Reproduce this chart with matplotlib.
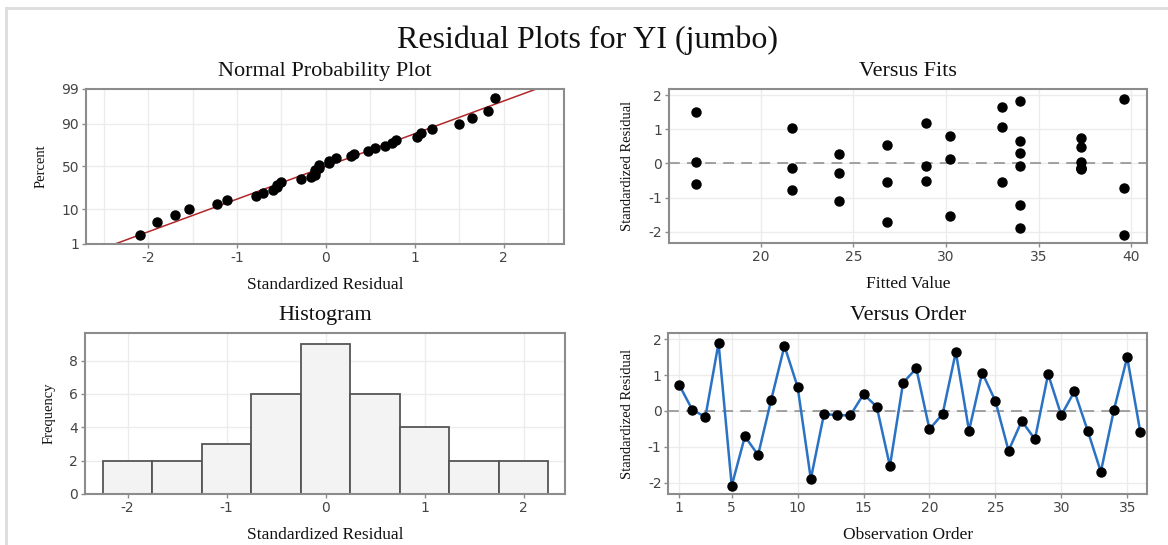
import numpy as np
import matplotlib
matplotlib.use("Agg")
import matplotlib.pyplot as plt
from matplotlib.lines import Line2D
from statistics import NormalDist

# standardized residuals in observation order
residuals = [0.74, 0.04, -0.17, 1.90, -2.09, -0.71, -1.23, 0.32, 1.82, 0.67,
             -1.90, -0.08, -0.12, -0.12, 0.47, 0.12, -1.54, 0.79, 1.19, -0.51,
             -0.08, 1.65, -0.55, 1.07, 0.28, -1.11, -0.28, -0.79, 1.03, -0.12,
             0.55, -0.55, -1.70, 0.04, 1.50, -0.60]
# fitted value for each observation
fitted = [37.3, 37.3, 37.3, 39.6, 39.6, 39.6, 34.0, 34.0, 34.0, 34.0,
          34.0, 34.0, 37.3, 37.3, 37.3, 30.2, 30.2, 30.2, 28.9, 28.9,
          28.9, 33.0, 33.0, 33.0, 24.2, 24.2, 24.2, 21.7, 21.7, 21.7,
          26.8, 26.8, 26.8, 16.5, 16.5, 16.5]
observation = list(range(1, len(residuals) + 1))

pct_ticks = [1, 10, 50, 90, 99]
hist_edges = np.arange(-2.25, 2.26, 0.5)
order_ticks = [1, 5, 10, 15, 20, 25, 30, 35]

SERIF = "Liberation Serif"
TICKFONT = "DejaVu Sans"
SPINE = "#8c8c8c"
GRID = "#ececec"

plt.rcParams["axes.unicode_minus"] = False

nd = NormalDist()
r = np.array(residuals)

fig = plt.figure(figsize=(11.68, 5.45), dpi=100)
ax_np = fig.add_axes([0.0736, 0.5523, 0.4092, 0.2844])
ax_fit = fig.add_axes([0.5728, 0.5541, 0.4092, 0.2826])
ax_hist = fig.add_axes([0.0728, 0.0936, 0.4110, 0.2954])
ax_ord = fig.add_axes([0.5723, 0.0936, 0.4097, 0.2954])


def style(ax, title, xlabel, ylabel):
    for s in ax.spines.values():
        s.set_color(SPINE)
        s.set_linewidth(1.5)
    ax.tick_params(length=3, width=1, color=SPINE, labelcolor="#444444",
                   labelsize=10, pad=2)
    for lab in ax.get_xticklabels() + ax.get_yticklabels():
        lab.set_fontfamily(TICKFONT)
    ax.set_axisbelow(True)
    ax.set_title(title, fontfamily=SERIF, fontsize=16, pad=9, color="#111111")
    ax.set_xlabel(xlabel, fontfamily=SERIF, fontsize=12.5, labelpad=9, color="#111111")
    ax.set_ylabel(ylabel, fontfamily=SERIF, fontsize=10.5, labelpad=10, color="#111111")


# normal probability plot
rs = np.sort(r)
n = len(rs)
probs = (np.arange(1, n + 1) - 0.3) / (n + 0.4)
zs = [nd.inv_cdf(p) for p in probs]
mu, sd = r.mean(), r.std(ddof=1)
zline = np.array([nd.inv_cdf(0.002), nd.inv_cdf(0.998)])
for x in np.arange(-2.5, 2.51, 0.5):
    ax_np.axvline(x, color=GRID, lw=1, zorder=0)
for t in pct_ticks[1:-1]:
    ax_np.axhline(nd.inv_cdf(t / 100), color=GRID, lw=1, zorder=0)
ax_np.plot(mu + zline * sd, zline, color="#b0282c", lw=1.1, zorder=2)
ax_np.plot(rs, zs, "o", color="black", ms=6.5, zorder=3)
ax_np.set_yticks([nd.inv_cdf(t / 100) for t in pct_ticks])
ax_np.set_yticklabels([str(t) for t in pct_ticks])
ax_np.set_ylim(nd.inv_cdf(0.01), nd.inv_cdf(0.99))
ax_np.set_xticks([-2, -1, 0, 1, 2])
ax_np.set_xlim(-2.70, 2.68)
style(ax_np, "Normal Probability Plot", "Standardized Residual", "Percent")

# residuals versus fits
ax_fit.grid(True, color=GRID, lw=1)
ax_fit.axhline(0, color="#9a9a9a", lw=1.3, ls=(0, (6, 4)), zorder=1)
ax_fit.plot(fitted, residuals, "o", color="black", ms=6.5, zorder=3)
ax_fit.set_xticks([20, 25, 30, 35, 40])
ax_fit.set_yticks([-2, -1, 0, 1, 2])
ax_fit.set_xlim(15.04, 40.85)
ax_fit.set_ylim(-2.33, 2.18)
style(ax_fit, "Versus Fits", "Fitted Value", "Standardized Residual")

# histogram of residuals
ax_hist.grid(True, color=GRID, lw=1)
ax_hist.hist(r, bins=hist_edges, color="#f3f3f3", edgecolor="#555555", lw=1.3, zorder=2)
ax_hist.set_xticks([-2, -1, 0, 1, 2])
ax_hist.set_yticks([0, 2, 4, 6, 8])
ax_hist.set_xlim(-2.43, 2.42)
ax_hist.set_ylim(0, 9.66)
style(ax_hist, "Histogram", "Standardized Residual", "Frequency")

# residuals versus order
ax_ord.grid(True, color=GRID, lw=1)
ax_ord.axhline(0, color="#9a9a9a", lw=1.3, ls=(0, (6, 4)), zorder=1)
ax_ord.plot(observation, residuals, "-", color="#2a72c4", lw=1.8, zorder=2)
ax_ord.plot(observation, residuals, "o", color="black", ms=6.5, zorder=3)
ax_ord.set_xticks(order_ticks)
ax_ord.set_yticks([-2, -1, 0, 1, 2])
ax_ord.set_xlim(0.2, 36.5)
ax_ord.set_ylim(-2.32, 2.18)
style(ax_ord, "Versus Order", "Observation Order", "Standardized Residual")

fig.text(0.503, 0.927, "Residual Plots for YI (jumbo)", ha="center", va="center",
         fontfamily=SERIF, fontsize=23, color="#111111")

# thin panel frame along the top and left edges
fig.add_artist(Line2D([0.005, 1.0], [0.985, 0.985], color="#dddddd", lw=2))
fig.add_artist(Line2D([0.005, 0.005], [0.0, 0.985], color="#dddddd", lw=2))

fig.savefig("out.png", dpi=100)
